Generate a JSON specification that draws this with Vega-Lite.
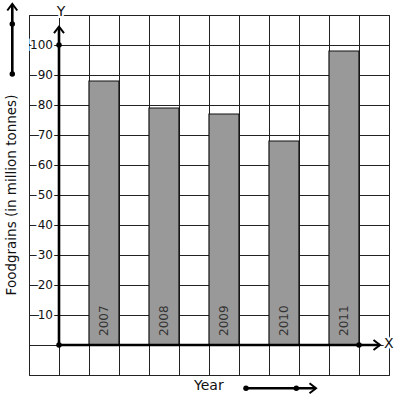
{
  "$schema": "https://vega.github.io/schema/vega-lite/v6.json",
  "width": 360,
  "height": 360,
  "autosize": {"type": "none"},
  "padding": {"left": 29, "top": 15, "right": 8, "bottom": 26},
  "background": "white",
  "config": {
    "view": {"stroke": "#222", "strokeWidth": 1},
    "font": "DejaVu Sans",
    "axis": {"gridColor": "#222", "gridWidth": 1, "gridOpacity": 1, "labels": false, "ticks": false, "domain": false, "title": null}
  },
  "datasets": {
    "bars": [
      {"year": "2007", "start": 1, "end": 2, "value": 88},
      {"year": "2008", "start": 3, "end": 4, "value": 79},
      {"year": "2009", "start": 5, "end": 6, "value": 77},
      {"year": "2010", "start": 7, "end": 8, "value": 68},
      {"year": "2011", "start": 9, "end": 10, "value": 98}
    ],
    "ticks": [
      {"v": 10, "pos": -0.2}, {"v": 20, "pos": -0.2}, {"v": 30, "pos": -0.2}, {"v": 40, "pos": -0.2}, {"v": 50, "pos": -0.2},
      {"v": 60, "pos": -0.2}, {"v": 70, "pos": -0.2}, {"v": 80, "pos": -0.2}, {"v": 90, "pos": -0.2}, {"v": 100, "pos": -0.2}
    ],
    "shafts": [
      {"u": 0, "v": 0, "u2": 0, "v2": 106},
      {"u": 0, "v": 0, "u2": 10.7, "v2": 0},
      {"u": -1.557, "v": 90.33, "u2": -1.557, "v2": 113.6},
      {"u": 6.233, "v": -14.43, "u2": 8.55, "v2": -14.43}
    ],
    "upTips": [{"u": 0, "v": 106.1}, {"u": -1.557, "v": 113.67}],
    "rightTips": [{"u": 10.7, "v": 0}, {"u": 8.567, "v": -14.43}],
    "dots": [
      {"u": 0, "v": 0}, {"u": 0, "v": 100}, {"u": 10, "v": 0},
      {"u": -1.557, "v": 90.33}, {"u": -1.557, "v": 107},
      {"u": 6.233, "v": -14.43}, {"u": 7.91, "v": -14.43}
    ],
    "axisNames": [{"text": "Y", "u": 0.07, "v": 111}, {"text": "X", "u": 10.99, "v": 0.33}],
    "yTitle": [{"text": "Foodgrains (in million tonnes)", "u": -1.567, "v": 50}],
    "xTitle": [{"text": "Year", "u": 4.5, "v": -13.67}]
  },
  "layer": [
    {
      "data": {"name": "bars"},
      "mark": {"type": "rect", "fill": "#999999", "stroke": "#111", "strokeWidth": 1.2},
      "encoding": {
        "x": {"field": "start", "type": "quantitative", "scale": {"domain": [-1, 11], "nice": false, "zero": false},
              "axis": {"values": [-1,0,1,2,3,4,5,6,7,8,9,10,11], "tickCount": 30, "grid": true}},
        "x2": {"field": "end"},
        "y": {"field": "value", "type": "quantitative", "scale": {"domain": [-10, 110], "nice": false, "zero": false},
              "axis": {"values": [-10,0,10,20,30,40,50,60,70,80,90,100,110], "tickCount": 30, "grid": true}},
        "y2": {"datum": 0}
      }
    },
    {
      "data": {"name": "bars"},
      "mark": {"type": "text", "angle": 270, "align": "left", "baseline": "middle", "fontSize": 12, "color": "#333", "dx": 9, "dy": 15},
      "encoding": {
        "x": {"field": "start", "type": "quantitative"},
        "y": {"datum": 0, "type": "quantitative"},
        "text": {"field": "year"}
      }
    },
    {
      "data": {"name": "ticks"},
      "mark": {"type": "text", "align": "right", "baseline": "middle", "fontSize": 12, "fill": "white", "stroke": "white", "strokeWidth": 4},
      "encoding": {
        "x": {"field": "pos", "type": "quantitative"},
        "y": {"field": "v", "type": "quantitative"},
        "text": {"field": "v"}
      }
    },
    {
      "data": {"name": "ticks"},
      "mark": {"type": "text", "align": "right", "baseline": "middle", "fontSize": 12, "color": "#111"},
      "encoding": {
        "x": {"field": "pos", "type": "quantitative"},
        "y": {"field": "v", "type": "quantitative"},
        "text": {"field": "v"}
      }
    },
    {
      "data": {"name": "shafts"},
      "mark": {"type": "rule", "color": "black", "strokeWidth": 2.6},
      "encoding": {
        "x": {"field": "u", "type": "quantitative"},
        "y": {"field": "v", "type": "quantitative"},
        "x2": {"field": "u2"},
        "y2": {"field": "v2"}
      }
    },
    {
      "data": {"name": "upTips"},
      "mark": {"type": "point", "shape": "M-1,1.3L0,0L1,1.3", "filled": false, "stroke": "black", "strokeWidth": 2, "size": 100, "opacity": 1},
      "encoding": {
        "x": {"field": "u", "type": "quantitative"},
        "y": {"field": "v", "type": "quantitative"}
      }
    },
    {
      "data": {"name": "rightTips"},
      "mark": {"type": "point", "shape": "M-1,1.3L0,0L1,1.3", "angle": 90, "filled": false, "stroke": "black", "strokeWidth": 2, "size": 100, "opacity": 1},
      "encoding": {
        "x": {"field": "u", "type": "quantitative"},
        "y": {"field": "v", "type": "quantitative"}
      }
    },
    {
      "data": {"name": "dots"},
      "mark": {"type": "point", "shape": "circle", "filled": true, "color": "black", "size": 30, "opacity": 1},
      "encoding": {
        "x": {"field": "u", "type": "quantitative"},
        "y": {"field": "v", "type": "quantitative"}
      }
    },
    {
      "data": {"name": "axisNames"},
      "mark": {"type": "text", "align": "center", "baseline": "middle", "fontSize": 14, "fill": "white", "stroke": "white", "strokeWidth": 4},
      "encoding": {
        "x": {"field": "u", "type": "quantitative"},
        "y": {"field": "v", "type": "quantitative"},
        "text": {"field": "text"}
      }
    },
    {
      "data": {"name": "axisNames"},
      "mark": {"type": "text", "align": "center", "baseline": "middle", "fontSize": 14, "color": "#111"},
      "encoding": {
        "x": {"field": "u", "type": "quantitative"},
        "y": {"field": "v", "type": "quantitative"},
        "text": {"field": "text"}
      }
    },
    {
      "data": {"name": "yTitle"},
      "mark": {"type": "text", "angle": 270, "align": "center", "baseline": "middle", "fontSize": 13.5, "color": "#111"},
      "encoding": {
        "x": {"field": "u", "type": "quantitative"},
        "y": {"field": "v", "type": "quantitative"},
        "text": {"field": "text"}
      }
    },
    {
      "data": {"name": "xTitle"},
      "mark": {"type": "text", "align": "left", "baseline": "middle", "fontSize": 14, "color": "#111"},
      "encoding": {
        "x": {"field": "u", "type": "quantitative"},
        "y": {"field": "v", "type": "quantitative"},
        "text": {"field": "text"}
      }
    }
  ]
}
